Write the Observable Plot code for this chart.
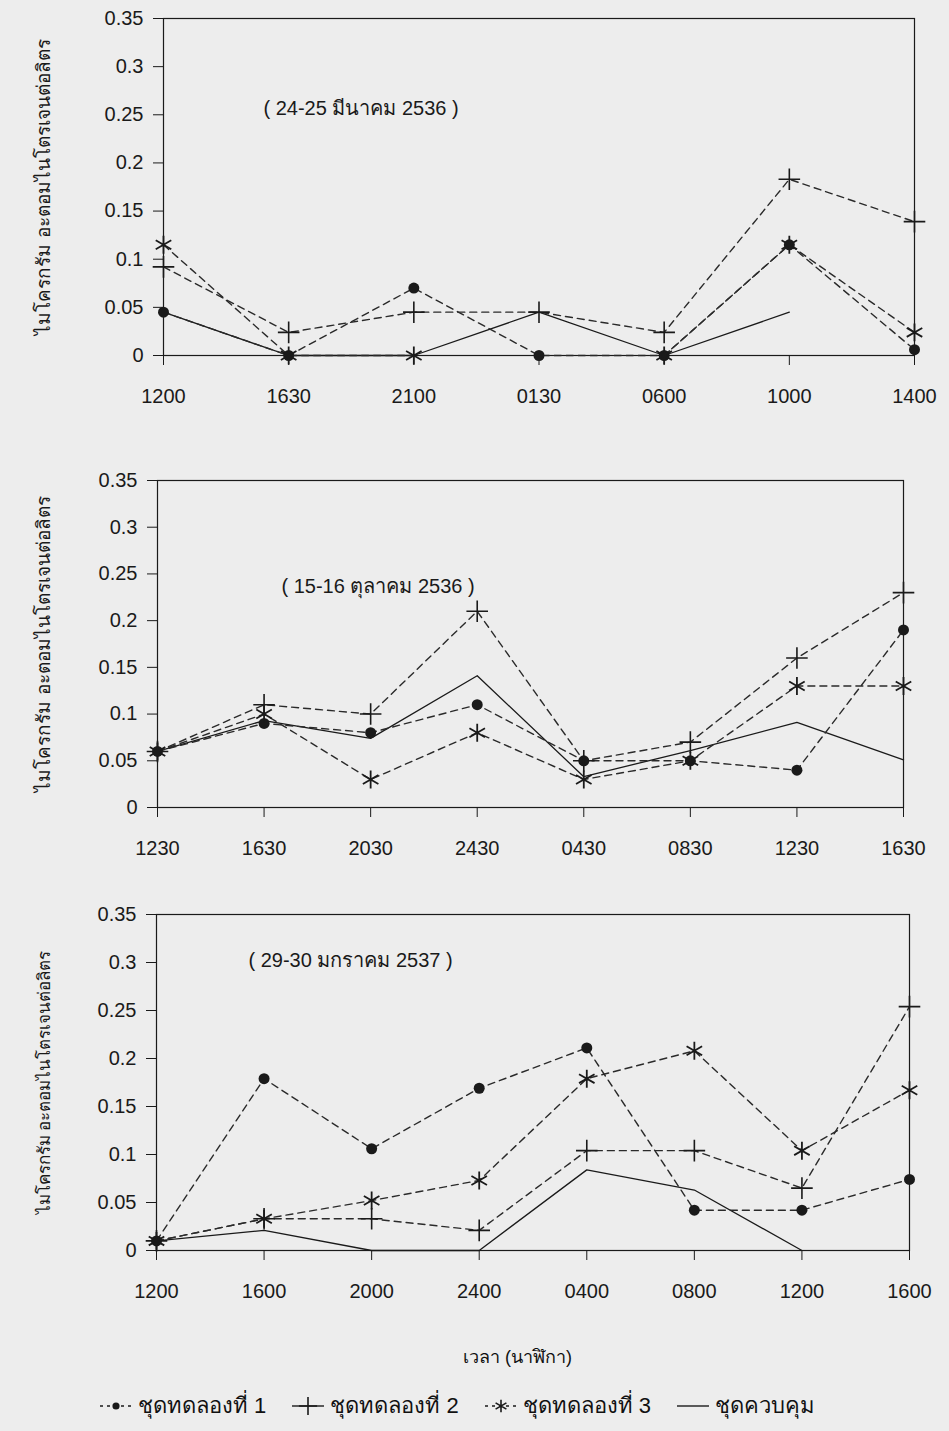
<!DOCTYPE html>
<html>
<head>
<meta charset="utf-8">
<script src="https://cdn.jsdelivr.net/npm/d3@7"></script>
<script src="https://cdn.jsdelivr.net/npm/@observablehq/plot@0.6"></script>
<style>
  html, body { margin: 0; padding: 0; background: #ededed; }
  body { width: 949px; height: 1431px; overflow: hidden; font-family: "Liberation Sans", Arial, "Noto Sans", sans-serif; color: #111; }
  svg { display: block; }
  #xlabel { height: 70px; line-height: 94px; font-size: 18px; text-align: center; padding-left: 86px; box-sizing: border-box; }
  #legend { display: flex; align-items: center; padding-left: 98px; font-size: 22px; height: 51px; }
  #legend .item { display: flex; align-items: center; margin-right: 24px; }
  #legend svg { margin-right: 4px; }
</style>
</head>
<body>
<div id="charts"></div>
<div id="xlabel">เวลา (นาฬิกา)</div>
<div id="legend"></div>
<script>
// ---------- data ----------
const yLabel = "ไมโครกรัม อะตอมไนโตรเจนต่อลิตร";
const yTicks = [0, 0.05, 0.1, 0.15, 0.2, 0.25, 0.3, 0.35];
const seriesNames = ["ชุดทดลองที่ 1", "ชุดทดลองที่ 2", "ชุดทดลองที่ 3", "ชุดควบคุม"];

// Panel 1 : 24-25 มีนาคม 2536
const note1 = "( 24-25 มีนาคม 2536 )";
const times1 = ["1200", "1630", "2100", "0130", "0600", "1000", "1400"];
const p1Set1 = [0.045, 0, 0.07, 0, 0, 0.115, 0.006];
const p1Set2 = [0.092, 0.024, 0.045, 0.045, 0.024, 0.183, 0.139];
const p1Set3 = [0.115, 0, 0, null, 0, 0.115, 0.024];
const p1Ctrl = [0.045, 0, 0, 0.045, 0, 0.045, null];

// Panel 2 : 15-16 ตุลาคม 2536
const note2 = "( 15-16 ตุลาคม 2536 )";
const times2 = ["1230", "1630", "2030", "2430", "0430", "0830", "1230", "1630"];
const p2Set1 = [0.06, 0.09, 0.08, 0.11, 0.05, 0.05, 0.04, 0.19];
const p2Set2 = [0.06, 0.11, 0.10, 0.21, 0.05, 0.07, 0.16, 0.23];
const p2Set3 = [0.06, 0.10, 0.03, 0.08, 0.03, 0.05, 0.13, 0.13];
const p2Ctrl = [0.06, 0.093, 0.074, 0.141, 0.033, 0.061, 0.091, 0.051];

// Panel 3 : 29-30 มกราคม 2537
const note3 = "( 29-30 มกราคม 2537 )";
const times3 = ["1200", "1600", "2000", "2400", "0400", "0800", "1200", "1600"];
const p3Set1 = [0.01, 0.179, 0.106, 0.169, 0.211, 0.042, 0.042, 0.074];
const p3Set2 = [0.01, 0.033, 0.033, 0.021, 0.104, 0.104, 0.065, 0.254];
const p3Set3 = [0.01, 0.033, 0.052, 0.073, 0.179, 0.208, 0.104, 0.167];
const p3Ctrl = [0.01, 0.021, 0, 0, 0.084, 0.063, 0, null];

// ---------- drawing ----------
const INK = "#1a1a1a";
const toRows = vals => vals.map((v, i) => ({i, v}));
const fmt = d => String(+d.toFixed(2));

function panel(times, s1, s2, s3, ctrl, note, L) {
  const n = times.length;
  const idx = d3.range(n);
  const dash = {x: "i", y: "v", stroke: "#2a2a2a", strokeWidth: 1.4, strokeDasharray: "7,5"};
  return Plot.plot({
    width: 949,
    height: L.height,
    marginTop: L.top, marginBottom: L.bottom, marginLeft: L.left, marginRight: L.right,
    style: {background: "transparent", fontFamily: "'Liberation Sans', Arial, sans-serif", color: INK},
    x: {type: "linear", domain: [0, n - 1]},
    y: {domain: [0, 0.35]},
    marks: [
      Plot.frame({stroke: INK, strokeWidth: 1.2}),
      Plot.axisY({ticks: yTicks, tickFormat: fmt, tickSize: 10, tickPadding: 10, fontSize: 20, label: null, stroke: INK}),
      Plot.axisX({ticks: idx, tickFormat: i => times[i], tickSize: 10, tickPadding: 23, fontSize: 20, label: null, stroke: INK}),
      Plot.text([yLabel], {frameAnchor: "left", textAnchor: "middle", rotate: -90, dx: L.ylabDx, fontSize: L.ylabSize, fill: INK}),
      Plot.line(toRows(ctrl), {x: "i", y: "v", stroke: INK, strokeWidth: 1.3}),
      Plot.line(toRows(s1), dash),
      Plot.line(toRows(s2), dash),
      Plot.line(toRows(s3), dash),
      Plot.dot(toRows(s1), {x: "i", y: "v", symbol: "circle", fill: INK, r: 5.5}),
      Plot.dot(toRows(s2), {x: "i", y: "v", symbol: "plus", stroke: INK, strokeWidth: 1.6, r: 7}),
      Plot.dot(toRows(s3), {x: "i", y: "v", symbol: "asterisk", stroke: INK, strokeWidth: 1.8, r: 8.5}),
      Plot.text([note], {frameAnchor: "top-left", dx: L.noteDx, dy: L.noteDy, textAnchor: "start", fontSize: 20, fill: INK})
    ]
  });
}

const charts = document.getElementById("charts");
charts.append(panel(times1, p1Set1, p1Set2, p1Set3, p1Ctrl, note1,
  {height: 420, top: 18, bottom: 65, left: 163, right: 35, noteDx: 100, noteDy: 82, ylabDx: -120, ylabSize: 19}));
charts.append(panel(times2, p2Set1, p2Set2, p2Set3, p2Ctrl, note2,
  {height: 440, top: 60, bottom: 53, left: 157, right: 46, noteDx: 124, noteDy: 98, ylabDx: -114, ylabSize: 19}));
charts.append(panel(times3, p3Set1, p3Set2, p3Set3, p3Ctrl, note3,
  {height: 450, top: 54, bottom: 60, left: 156, right: 40, noteDx: 92, noteDy: 38, ylabDx: -112, ylabSize: 17}));

// ---------- legend ----------
const legend = document.getElementById("legend");
const legendSymbols = ["circle", "plus", "asterisk", null];
const legendDash = ["3,4", null, "3,4", null];
seriesNames.forEach((name, k) => {
  const item = document.createElement("div");
  item.className = "item";
  const s = d3.create("svg").attr("width", 36).attr("height", 20);
  s.append("line").attr("x1", 2).attr("x2", 34).attr("y1", 10).attr("y2", 10)
    .attr("stroke", INK).attr("stroke-width", 1.4).attr("stroke-dasharray", legendDash[k]);
  if (legendSymbols[k]) {
    const sym = {circle: d3.symbolCircle, plus: d3.symbolPlus, asterisk: d3.symbolAsterisk}[legendSymbols[k]];
    const size = legendSymbols[k] === "circle" ? 40 : 110;
    const p = s.append("path").attr("transform", "translate(18,10)").attr("d", d3.symbol(sym, size)());
    if (legendSymbols[k] === "circle") p.attr("fill", INK);
    else p.attr("fill", "none").attr("stroke", INK).attr("stroke-width", 1.6);
  }
  item.append(s.node());
  const t = document.createElement("span");
  t.textContent = name;
  item.append(t);
  legend.append(item);
});
</script>
</body>
</html>
